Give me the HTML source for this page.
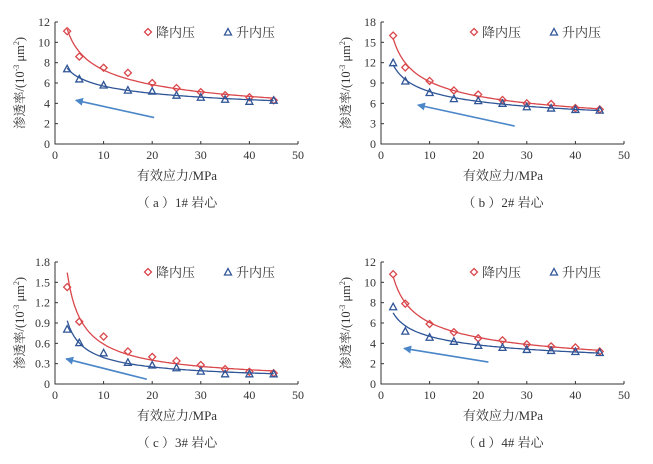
<!DOCTYPE html>
<html><head><meta charset="utf-8"><style>
body{margin:0;background:#fff;width:653px;height:459px;overflow:hidden}
svg text{font-family:"Liberation Serif","Noto Serif CJK SC",serif;fill:#333}
</style></head><body>
<svg id="s" width="653" height="459" xmlns="http://www.w3.org/2000/svg">
<defs><marker id="ah" markerWidth="8" markerHeight="8" refX="7" refY="4" orient="auto" markerUnits="userSpaceOnUse" viewBox="0 0 8 8"><path d="M0,0 L8,4 L0,8 Z" fill="#4a86c8"/></marker></defs>
</svg>
<script>
const xs=[2.5,5,10,15,20,25,30,35,40,45];
const xTicks=[0,10,20,30,40,50];
const redA=[11.1,8.6,7.5,7.0,6.0,5.5,5.1,4.8,4.6,4.3];
const blueA=[7.4,6.4,5.8,5.3,5.2,4.8,4.6,4.4,4.2,4.3];
const redB=[16,11.3,9.3,7.9,7.3,6.5,6.0,5.9,5.3,5.1];
const blueB=[12,9.3,7.6,6.7,6.4,6.0,5.5,5.3,5.1,5.0];
const redC=[1.43,0.92,0.70,0.48,0.40,0.34,0.28,0.22,0.18,0.16];
const blueC=[0.81,0.61,0.46,0.32,0.28,0.24,0.19,0.15,0.15,0.15];
const redD=[10.8,7.9,5.9,5.1,4.5,4.3,3.9,3.7,3.6,3.2];
const blueD=[7.6,5.2,4.6,4.2,3.8,3.6,3.4,3.3,3.2,3.1];
const yTicksA=[0,2,4,6,8,10,12];
const yTicksB=[0,3,6,9,12,15,18];
const yTicksC=["0","0.3","0.6","0.9","1.2","1.5","1.8"];
const yTicksD=[0,2,4,6,8,10,12];
const arrowA=[20.4,2.6,4.3,4.3];
const arrowB=[27.5,2.65,7.6,5.75];
const arrowC=[18.9,0.07,2.3,0.37];
const arrowD=[22.1,2.16,4.75,3.5];
const captions=["（ a ）1# 岩心","（ b ）2# 岩心","（ c ）3# 岩心","（ d ）4# 岩心"];
const S=document.getElementById('s');const NS='http://www.w3.org/2000/svg';
function el(t,a,p){const e=document.createElementNS(NS,t);for(const k in a)e.setAttribute(k,a[k]);(p||S).appendChild(e);return e;}
function fit(ys){let n=xs.length,sx=0,sy=0,sxx=0,sxy=0;xs.forEach((x,i)=>{const lx=Math.log(x),ly=Math.log(ys[i]);sx+=lx;sy+=ly;sxx+=lx*lx;sxy+=lx*ly;});const b=(n*sxy-sx*sy)/(n*sxx-sx*sx),a=Math.exp((sy-b*sx)/n);return x=>a*Math.pow(x,b);}
function panel(ox,oy,yt,ymax,red,blue,arr,cap,id){
 const g=el('g',{});
 
 
 const X=v=>ox+55+v*(243/50), Y=v=>oy+144-v*(122/ymax);
 const ax=el('path',{d:`M${ox+55},${oy+22}V${oy+144}H${ox+298}`,stroke:'#333',fill:'none','stroke-width':1},g);
 
 
 yt.forEach((t,i)=>{const v=ymax*i/(yt.length-1);el('line',{x1:ox+55,x2:ox+58,y1:Y(v),y2:Y(v),stroke:'#333'},g);
  const tx=el('text',{x:ox+50,y:Y(v)+4,'text-anchor':'end','font-size':12},g);tx.textContent=t;
  
  });
 xTicks.forEach(t=>{el('line',{x1:X(t),x2:X(t),y1:oy+144,y2:oy+141,stroke:'#333'},g);
  const tx=el('text',{x:X(t),y:oy+159,'text-anchor':'middle','font-size':12},g);tx.textContent=t;
  
  });
 const yl=el('text',{transform:`translate(${ox+24},${oy+83}) rotate(-90)`,'text-anchor':'middle','font-size':12.5},g);
 yl.innerHTML='渗透率/(10<tspan font-size="8" dy="-5">-3</tspan><tspan dy="5"> μm</tspan><tspan font-size="8" dy="-5">2</tspan><tspan dy="5">)</tspan>';
 
 
 const xl=el('text',{x:ox+177,y:oy+180,'text-anchor':'middle','font-size':13},g);xl.textContent='有效应力/MPa';
 
 
 const cp=el('text',{x:ox+177,y:oy+207,'text-anchor':'middle','font-size':13},g);cp.textContent=cap;
 
 
 [[red,'#d9474b','diamond'],[blue,'#2f5597','triangle']].forEach(([ys,c,m])=>{
  const f=fit(ys);let d='';for(let x=2.5;x<=45.01;x+=0.5)d+=(d?'L':'M')+X(x).toFixed(1)+','+Y(f(x)).toFixed(1);
  const ln=el('path',{d,stroke:c,fill:'none','stroke-width':1.3},g);
  
  
  ys.forEach((v,i)=>{const cx=X(xs[i]),cy=Y(v);let p;
   if(m==='diamond')p=el('path',{d:`M${cx},${cy-3.5}L${cx+3.5},${cy}L${cx},${cy+3.5}L${cx-3.5},${cy}Z`,fill:'none',stroke:c,'stroke-width':1.3},g);
   else p=el('path',{d:`M${cx},${cy-3.5}L${cx+3.5},${cy+3}L${cx-3.5},${cy+3}Z`,fill:'none',stroke:c,'stroke-width':1.3},g);
   
   });
 });
 const ar=el('line',{x1:X(arr[0]),y1:Y(arr[1]),x2:X(arr[2]),y2:Y(arr[3]),stroke:'#4a86c8','stroke-width':1.6,'marker-end':'url(#ah)'},g);
 
 
 const l1=el('path',{d:`M${ox+148},${oy+28.5}L${ox+151.5},${oy+32}L${ox+148},${oy+35.5}L${ox+144.5},${oy+32}Z`,fill:'none',stroke:'#d9474b','stroke-width':1.3},g);
 
 
 const t1=el('text',{x:ox+156,y:oy+37,'font-size':13},g);t1.textContent='降内压';
 
 
 const l2=el('path',{d:`M${ox+228},${oy+28.5}L${ox+231.5},${oy+35}L${ox+224.5},${oy+35}Z`,fill:'none',stroke:'#2f5597','stroke-width':1.3},g);
 
 
 const t2=el('text',{x:ox+236,y:oy+37,'font-size':13},g);t2.textContent='升内压';
 
 
}
panel(0,0,yTicksA,12,redA,blueA,arrowA,captions[0],'a');
panel(326,0,yTicksB,18,redB,blueB,arrowB,captions[1],'b');
panel(0,240,yTicksC,1.8,redC,blueC,arrowC,captions[2],'c');
panel(326,240,yTicksD,12,redD,blueD,arrowD,captions[3],'d');
</script>
</body></html>
